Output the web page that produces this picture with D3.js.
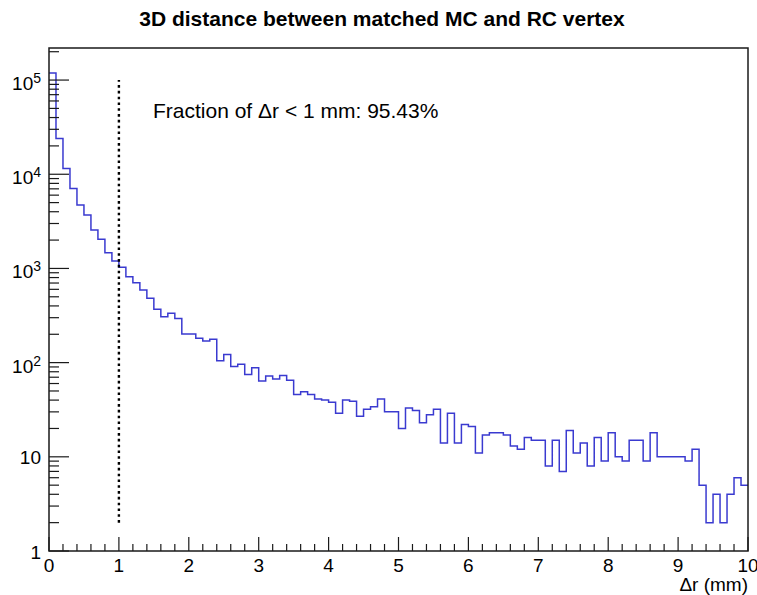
<!DOCTYPE html>
<html>
<head>
<meta charset="utf-8">
<script src="https://cdn.jsdelivr.net/npm/d3@7"></script>
<style>
	body { margin: 0; background: #fff; }
	svg { display: block; font-family: "Liberation Sans", Arial, Helvetica, sans-serif; }
</style>
</head>
<body>
<svg id="chart" width="757" height="595"></svg>
<script>
'use strict';

// histogram of 3D distance (mm), 100 bins of 0.1 mm from 0 to 10
var binWidth = 0.1;
var counts = [
	119000, 24000, 11500, 7080, 4710, 3690, 2560, 2040, 1470, 1200,
	1030, 817, 705, 590, 482, 368, 307, 334, 295, 201,
	201, 181, 170, 177, 105, 122, 91, 96, 75, 88,
	64, 72, 67, 73, 65, 46, 49, 46, 41, 40,
	38, 29, 40, 39, 27, 32, 34, 41, 30, 30,
	20, 33, 31, 23, 28, 32, 14, 29, 14, 22,
	21, 11, 17, 18, 18, 17, 13, 12, 16, 15,
	15, 8, 15, 7, 19, 11, 14, 8, 16, 9,
	18, 10, 9, 15, 15, 9, 18, 10, 10, 10,
	10, 9, 12, 5, 2, 4, 2, 4, 6, 5
];
var xTicks = [0, 1, 2, 3, 4, 5, 6, 7, 8, 9, 10];
var yDecades = [0, 1, 2, 3, 4, 5];
var cutValue = 1;          // dashed line position, mm
var cutRange = [2, 1e5];   // dashed line extent in counts
var titleText = '3D distance between matched MC and RC vertex';
var fractionText = 'Fraction of \u0394r < 1 mm: 95.43%';
var xTitle = '\u0394r (mm)';

var opt = {
	width: 757,
	height: 595,
	margin: { top: 48, right: 9, bottom: 44, left: 49 },
	yMax: 2.19e5,
	lineColor: '#3a3ad0',
	axisColor: '#1a1a1a'
};

var svg = d3.select('#chart');
var w = opt.width - opt.margin.left - opt.margin.right;
var h = opt.height - opt.margin.top - opt.margin.bottom;

var x = d3.scaleLinear()
	.domain([0, counts.length * binWidth])
	.range([opt.margin.left, opt.margin.left + w]);

var y = d3.scaleLog()
	.domain([1, opt.yMax])
	.range([opt.margin.top + h, opt.margin.top]);

var x0 = x.range()[0], x1 = x.range()[1];
var y0 = y.range()[0], y1 = y.range()[1];

// title
svg.append('text')
	.attr('x', 382)
	.attr('y', 26)
	.attr('text-anchor', 'middle')
	.style('font-size', '21px')
	.style('font-weight', 'bold')
	.text(titleText);

// step outline of the histogram
var steps = [];
counts.forEach(function(c, i) {
	steps.push([x(i * binWidth), y(c)]);
	steps.push([x((i + 1) * binWidth), y(c)]);
});

svg.append('path')
	.attr('d', d3.line()(steps))
	.attr('fill', 'none')
	.attr('stroke', opt.lineColor)
	.attr('stroke-width', 1.5);

// dashed cut line
svg.append('line')
	.attr('x1', x(cutValue))
	.attr('x2', x(cutValue))
	.attr('y1', y(cutRange[0]))
	.attr('y2', y(cutRange[1]))
	.attr('stroke', '#000')
	.attr('stroke-width', 2.4)
	.attr('stroke-dasharray', '2.6,3.2');

svg.append('text')
	.attr('x', 153)
	.attr('y', 118)
	.style('font-size', '21px')
	.text(fractionText);

// frame
svg.append('rect')
	.attr('x', x0)
	.attr('y', y1)
	.attr('width', x1 - x0)
	.attr('height', y0 - y1)
	.attr('fill', 'none')
	.attr('stroke', opt.axisColor)
	.attr('stroke-width', 1.5);

var axes = svg.append('g')
	.attr('stroke', opt.axisColor)
	.attr('stroke-width', 1.2);

// x ticks, major at each mm, minor every 0.2 mm
var xMinor = d3.range(0, 50).map(function(k) { return k * 0.2; })
	.filter(function(v) { return Math.abs(v - Math.round(v)) > 1e-6; });

axes.selectAll('line.xmajor')
	.data(xTicks)
	.enter().append('line')
	.attr('x1', function(d) { return x(d); })
	.attr('x2', function(d) { return x(d); })
	.attr('y1', y0)
	.attr('y2', y0 - 14);

axes.selectAll('line.xminor')
	.data(xMinor)
	.enter().append('line')
	.attr('x1', function(d) { return x(d); })
	.attr('x2', function(d) { return x(d); })
	.attr('y1', y0)
	.attr('y2', y0 - 7);

svg.selectAll('text.xlabel')
	.data(xTicks)
	.enter().append('text')
	.attr('x', function(d) { return x(d); })
	.attr('y', 572)
	.attr('text-anchor', 'middle')
	.style('font-size', '19px')
	.text(function(d) { return d; });

svg.append('text')
	.attr('x', x1)
	.attr('y', 591)
	.attr('text-anchor', 'end')
	.style('font-size', '19px')
	.text(xTitle);

// y ticks on the log axis
var yMinor = [];
yDecades.forEach(function(k) {
	for(var m = 2; m <= 9; ++m) {
		var v = m * Math.pow(10, k);
		if(v < opt.yMax) {
			yMinor.push(v);
		}
	}
});

axes.selectAll('line.ymajor')
	.data(yDecades)
	.enter().append('line')
	.attr('x1', x0)
	.attr('x2', x0 + 20)
	.attr('y1', function(d) { return y(Math.pow(10, d)); })
	.attr('y2', function(d) { return y(Math.pow(10, d)); });

axes.selectAll('line.yminor')
	.data(yMinor)
	.enter().append('line')
	.attr('x1', x0)
	.attr('x2', x0 + 10)
	.attr('y1', function(d) { return y(d); })
	.attr('y2', function(d) { return y(d); });

var ylabels = svg.selectAll('text.ylabel')
	.data(yDecades)
	.enter().append('text')
	.attr('x', 41)
	.attr('y', function(d) { return y(Math.pow(10, d)) + (d < 2 ? 7.5 : 10); })
	.attr('text-anchor', 'end')
	.style('font-size', '19px');

ylabels.each(function(d) {
	var t = d3.select(this);
	if(d === 0) {
		t.text('1');
	}
	else if(d === 1) {
		t.text('10');
	}
	else {
		t.append('tspan').text('10');
		t.append('tspan')
			.attr('dy', -7)
			.style('font-size', '14px')
			.text(d);
	}
});
</script>
</body>
</html>
